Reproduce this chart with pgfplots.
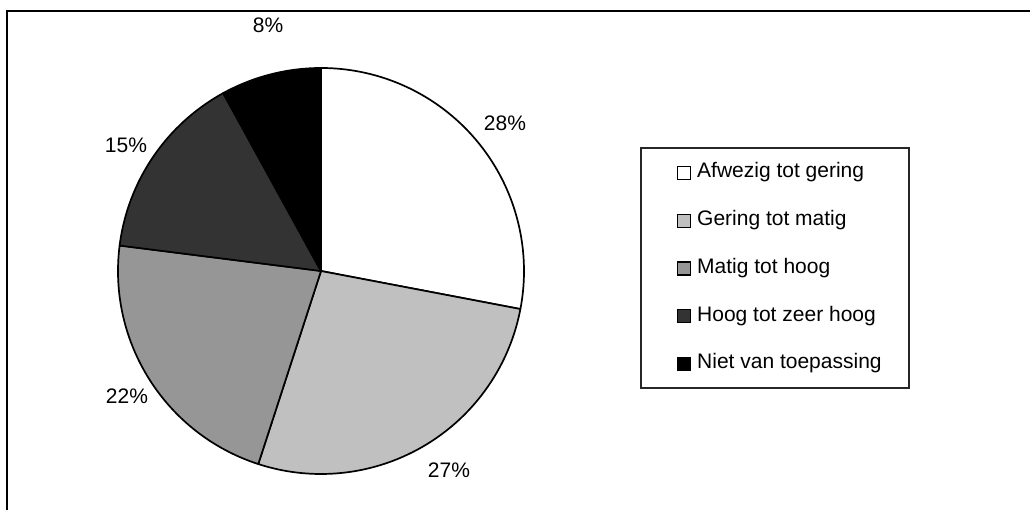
\documentclass[border=0pt]{standalone}
\usepackage{fontspec}
\setmainfont{Liberation Sans}
\usepackage{pgfplots}
\pgfplotsset{compat=1.18}
\definecolor{gA}{HTML}{C0C0C0}
\definecolor{gB}{HTML}{969696}
\definecolor{gC}{HTML}{333333}
\newcommand\labfont{\fontsize{21}{25}\selectfont}
\begin{document}
\begin{tikzpicture}
\useasboundingbox (0,0) rectangle (1030pt,510pt);
\begin{axis}[
  at={(0,0)}, anchor=south west,
  scale only axis, width=1030pt, height=510pt,
  xmin=0, xmax=1030, ymin=0, ymax=510,
  hide axis, clip=true,
]
% outer frame (top and left edges)
\draw[line width=1.5pt, black] (axis cs:7,-5) -- (axis cs:7,499) -- (axis cs:1035,499);
% pie slices: percent / colour / label x / label y
\xdef\startang{90}
\foreach \p/\c/\lx/\ly in {28/white/505/387, 27/gA/449/40, 22/gB/127/114, 15/gC/126/365, 8/black/268/485}{
  \pgfmathsetmacro\endang{\startang-3.6*\p}
  \edef\temp{\noexpand\filldraw[fill=\c, draw=black, line width=1.7pt, line join=round]
    (axis cs:321,239) -- ++(\startang:203pt) arc[start angle=\startang, end angle=\endang, radius=203pt] -- cycle;
    \noexpand\node[font=\noexpand\labfont, inner sep=0pt] at (axis cs:\lx,\ly) {\p\noexpand\%};}
  \temp
  \xdef\startang{\endang}
}
% legend
\draw[line width=1.2pt, black!85] (axis cs:641,122) rectangle (axis cs:909,362);
\foreach \c/\t/\y in {white/Afwezig tot gering/337, gA/Gering tot matig/289.25, gB/Matig tot hoog/241.5, gC/Hoog tot zeer hoog/193.75, black/Niet van toepassing/146}{
  \edef\temp{\noexpand\filldraw[fill=\c, draw=black, line width=1.2pt] (axis cs:677.5,\y-6.5) rectangle (axis cs:690.5,\y+6.5);
    \noexpand\node[font=\noexpand\labfont, anchor=west, inner sep=0pt] at (axis cs:697,\y) {\noexpand\strut \t};}
  \temp
}
\end{axis}
\end{tikzpicture}
\end{document}
